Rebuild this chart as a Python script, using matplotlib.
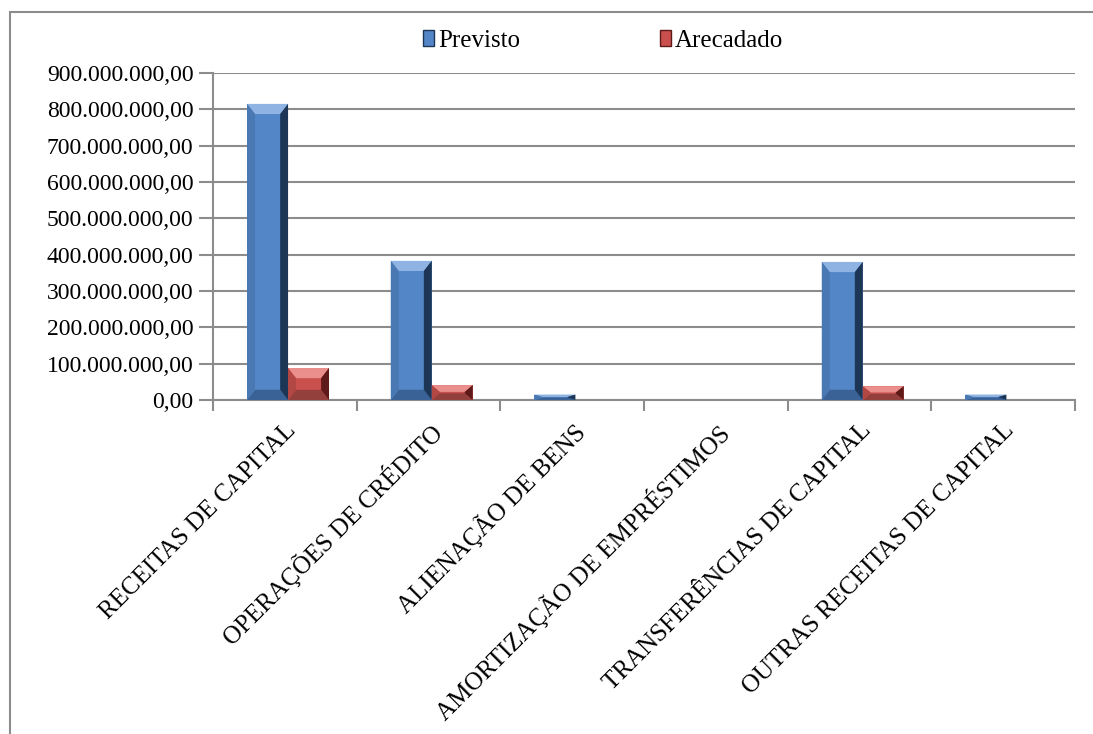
import matplotlib
matplotlib.use('Agg')
import matplotlib.pyplot as plt
from matplotlib.patches import Polygon, Rectangle, Patch
from matplotlib.ticker import FuncFormatter, FixedLocator

# data
categorias = ['RECEITAS DE CAPITAL', 'OPERAÇÕES DE CRÉDITO', 'ALIENAÇÃO DE BENS',
              'AMORTIZAÇÃO DE EMPRÉSTIMOS', 'TRANSFERÊNCIAS DE CAPITAL',
              'OUTRAS RECEITAS DE CAPITAL']
previsto = [815e6, 383e6, 15e6, 0, 380e6, 15e6]
arrecadado = [88e6, 41e6, 0, 0, 38e6, 0]
y_ticks = [0, 100e6, 200e6, 300e6, 400e6, 500e6, 600e6, 700e6, 800e6, 900e6]

plt.rcParams['font.family'] = ['Liberation Serif', 'DejaVu Serif']

W, H = 1093, 734
fig = plt.figure(figsize=(W / 100, H / 100), dpi=100)
ax = fig.add_axes([213 / W, 1 - 400 / H, (1075 - 213) / W, (400 - 73) / H])

# outer chart frame
fig.add_artist(Rectangle((10 / W, -0.1), 1.2, 1.1 - 12 / H, transform=fig.transFigure,
                         fill=False, edgecolor='#8c8c8c', linewidth=1.5))

cores = {
    'prev': dict(face='#5386c6', top='#8fb4e3', right='#1d3656', left='#4a78b2', bot='#3a6296'),
    'arr': dict(face='#c9504d', top='#ea8f8b', right='#5e1a18', left='#b34744', bot='#93403d'),
}

bw = 0.285
off_prev = -0.12
off_arr = 0.165
bx = 0.055
by_full = 28e6


def bar3d(ax, xc, h, c):
    if h <= 0:
        return
    x0, x1 = xc - bw / 2, xc + bw / 2
    y0, y1 = 0, h
    by = min(by_full, h / 2.2)
    ax.add_patch(Rectangle((x0, y0), bw, h, facecolor=c['face'], edgecolor='none', zorder=3))
    ax.add_patch(Polygon([(x0, y1), (x1, y1), (x1 - bx, y1 - by), (x0 + bx, y1 - by)],
                         closed=True, facecolor=c['top'], edgecolor='none', zorder=4))
    ax.add_patch(Polygon([(x0, y0), (x1, y0), (x1 - bx, y0 + by), (x0 + bx, y0 + by)],
                         closed=True, facecolor=c['bot'], edgecolor='none', zorder=4))
    ax.add_patch(Polygon([(x0, y0), (x0, y1), (x0 + bx, y1 - by), (x0 + bx, y0 + by)],
                         closed=True, facecolor=c['left'], edgecolor='none', zorder=4))
    ax.add_patch(Polygon([(x1, y0), (x1, y1), (x1 - bx, y1 - by), (x1 - bx, y0 + by)],
                         closed=True, facecolor=c['right'], edgecolor='none', zorder=4))


for i in range(len(categorias)):
    bar3d(ax, i + off_prev, previsto[i], cores['prev'])
    bar3d(ax, i + off_arr, arrecadado[i], cores['arr'])

ax.set_xlim(-0.5, len(categorias) - 0.5)
ax.set_ylim(0, 900e6)

ax.set_yticks(y_ticks)
ax.yaxis.set_major_formatter(FuncFormatter(
    lambda v, p: '{:,.2f}'.format(v).replace(',', 'X').replace('.', ',').replace('X', '.')))
ax.grid(axis='y', color='#8c8c8c', linewidth=1.5, zorder=0)
ax.set_axisbelow(True)

ax.set_xticks(range(len(categorias)))
ax.set_xticklabels(categorias, rotation=45, ha='right', rotation_mode='anchor',
                   fontsize=18)
ax.tick_params(axis='x', which='major', length=0, pad=14)
ax.xaxis.set_minor_locator(FixedLocator([i - 0.5 for i in range(len(categorias) + 1)]))
ax.tick_params(axis='x', which='minor', length=8, width=1.5, color='#8c8c8c', direction='out')
ax.tick_params(axis='y', length=10, width=1.5, color='#8c8c8c', labelsize=17, pad=4)

for s in ['top', 'right']:
    ax.spines[s].set_visible(False)
for s in ['left', 'bottom']:
    ax.spines[s].set_color('#8c8c8c')
    ax.spines[s].set_linewidth(1.5)

handles = [Patch(facecolor=cores['prev']['face'], edgecolor=cores['prev']['right'], label='Previsto'),
           Patch(facecolor=cores['arr']['face'], edgecolor=cores['arr']['right'], label='Arecadado')]
fig.legend(handles=handles, loc='center', bbox_to_anchor=(0.552, 1 - 41 / H), ncol=2,
           frameon=False, fontsize=18, handlelength=0.45, handleheight=0.6,
           handletextpad=0.15, columnspacing=5.6)

fig.savefig('out.png', dpi=100)
